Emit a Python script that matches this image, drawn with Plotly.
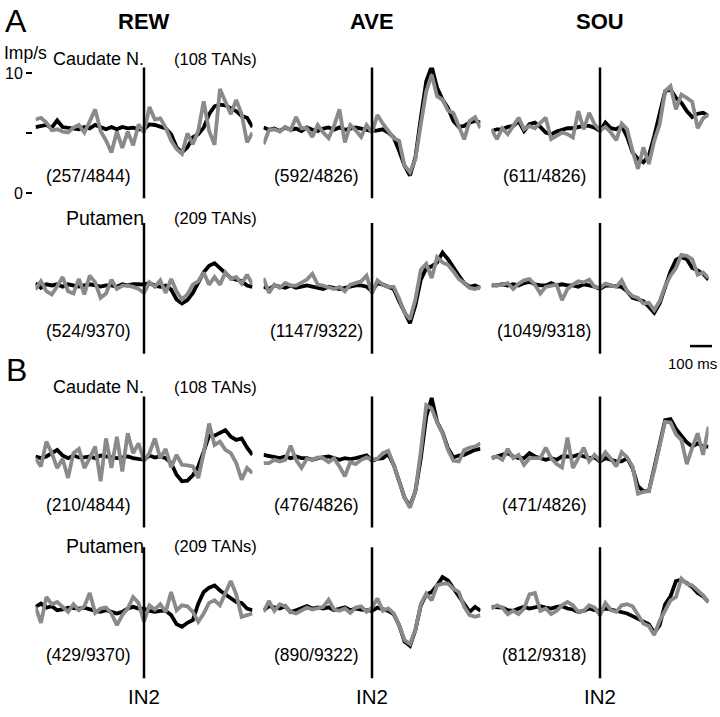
import plotly.graph_objects as go

# time bins (ms) relative to IN2
TIME_MS = list(range(-500, 525, 25))

COLUMNS = ["REW", "AVE", "SOU"]
ROW_LABELS = ["Caudate N.", "Putamen", "Caudate N.", "Putamen"]
ROW_TANS = ["(108 TANs)", "(209 TANs)", "(108 TANs)", "(209 TANs)"]
COUNTS = [
    ["(257/4844)", "(592/4826)", "(611/4826)"],
    ["(524/9370)", "(1147/9322)", "(1049/9318)"],
    ["(210/4844)", "(476/4826)", "(471/4826)"],
    ["(429/9370)", "(890/9322)", "(812/9318)"],
]

# Imp/s, panel A (caudate / putamen)
a_rew_caud_black = [5.53, 5.6, 5.7, 5.48, 6.08, 5.53, 5.48, 5.42, 5.34, 5.53, 5.42, 5.7, 5.48, 5.34, 5.53, 5.34, 5.53, 5.42, 5.48, 5.34,
                    5.34, 5.75, 5.7, 5.6, 5.42, 4.93, 3.84, 3.42, 3.84, 4.66, 4.93, 5.48, 6.6, 7.26, 7.4, 7.34, 7.12, 6.85, 6.44, 6.3, 5.53]
a_rew_caud_gray = [6.16, 6.3, 5.9, 5.26, 5.34, 5.15, 5.07, 5.48, 5.7, 5.07, 6.0, 7.0, 5.2, 4.4, 3.4, 5.15, 3.8, 5.15, 4.0, 5.75,
                   5.07, 7.2, 6.16, 6.25, 5.48, 4.4, 3.7, 3.3, 5.0, 4.1, 5.2, 7.67, 5.2, 4.05, 8.7, 7.67, 6.6, 7.8, 6.6, 4.25, 5.07]
a_ave_caud_black = [5.5, 5.3, 5.4, 5.2, 5.5, 5.3, 5.4, 5.2, 5.5, 5.3, 5.2, 5.4, 5.5, 5.3, 5.5, 5.3, 5.4, 5.5, 5.4, 5.3,
                    5.2, 5.26, 5.34, 5.07, 4.66, 3.55, 2.31, 1.49, 3.0, 6.3, 9.34, 10.58, 8.79, 7.82, 7.13, 6.03, 5.54, 5.62, 5.9, 6.03, 5.9]
a_ave_caud_gray = [4.1, 5.26, 5.34, 5.15, 5.54, 5.26, 6.36, 5.43, 5.43, 4.71, 5.7, 5.07, 4.6, 5.62, 7.0, 4.24, 5.7, 5.26, 4.71, 5.7,
                   5.07, 6.53, 5.81, 5.2, 4.6, 4.38, 2.31, 1.76, 2.87, 5.76, 8.5, 9.9, 8.1, 7.82, 6.9, 6.7, 5.62, 4.5, 6.03, 6.36, 5.43]
a_sou_caud_black = [5.2, 5.34, 5.34, 5.54, 5.62, 6.03, 5.2, 5.76, 5.9, 5.54, 5.07, 4.93, 5.15, 5.26, 5.43, 5.43, 5.54, 5.62, 5.62, 5.48,
                    5.2, 5.9, 5.43, 5.34, 5.62, 4.71, 3.42, 2.87, 2.59, 3.14, 4.79, 6.72, 8.51, 8.65, 7.96, 7.55, 6.86, 6.36, 6.64, 6.72, 6.45]
a_sou_caud_gray = [5.34, 4.52, 5.43, 4.93, 5.62, 6.31, 5.34, 5.62, 5.43, 5.9, 6.31, 4.52, 4.79, 5.07, 4.93, 4.66, 6.86, 5.34, 6.72, 5.76,
                   5.26, 5.54, 5.07, 4.44, 5.81, 5.34, 3.55, 2.04, 3.83, 2.45, 4.38, 5.76, 8.51, 8.93, 7.0, 8.24, 7.96, 7.63, 5.43, 6.25, 6.58]
a_rew_put_black = [5.5, 5.1, 5.4, 5.3, 5.4, 5.2, 5.4, 5.3, 5.2, 5.3, 5.4, 5.3, 5.2, 5.3, 5.3, 5.2, 5.4, 5.3, 5.4, 5.4,
                   5.37, 5.5, 5.29, 5.18, 5.29, 4.96, 4.13, 3.8, 4.08, 4.68, 5.5, 6.39, 6.94, 7.16, 6.75, 6.28, 5.92, 5.79, 5.65, 5.29, 5.18]
a_rew_put_gray = [4.96, 5.65, 4.82, 4.55, 5.23, 6.0, 4.82, 4.63, 5.84, 4.55, 6.12, 5.56, 4.27, 4.63, 5.79, 5.01, 5.29, 5.29, 5.18, 5.01,
                  4.68, 5.56, 5.18, 5.73, 4.68, 5.84, 4.82, 4.13, 4.55, 5.37, 5.65, 6.39, 5.37, 6.0, 5.37, 6.39, 5.84, 6.0, 5.45, 6.2, 5.37]
a_ave_put_black = [5.2, 5.0, 5.3, 5.2, 5.1, 5.3, 5.1, 5.2, 5.3, 5.2, 5.1, 5.0, 5.2, 5.1, 5.0, 5.1, 5.2, 5.3, 5.3, 5.2,
                   4.82, 5.5, 5.37, 5.18, 5.01, 3.99, 3.03, 2.15, 3.64, 5.79, 6.75, 6.89, 7.22, 8.04, 7.49, 6.75, 6.12, 5.5, 5.18, 5.29, 5.1]
a_ave_put_gray = [5.92, 4.68, 5.37, 5.1, 5.5, 5.29, 5.29, 5.5, 5.79, 6.28, 5.37, 5.29, 5.18, 5.01, 5.18, 4.82, 5.37, 5.5, 5.65, 6.12,
                  4.63, 5.73, 5.37, 5.18, 5.18, 4.19, 3.03, 2.48, 4.13, 6.61, 7.11, 5.92, 7.66, 7.22, 7.02, 6.47, 5.84, 5.5, 5.1, 5.01, 5.18]
a_sou_put_black = [5.3, 5.3, 5.4, 5.3, 5.4, 5.3, 5.5, 5.6, 5.4, 5.3, 5.3, 5.5, 5.3, 5.4, 5.3, 5.3, 5.2, 5.4, 5.3, 5.2,
                   5.01, 5.29, 5.29, 5.23, 5.18, 4.82, 4.27, 4.13, 3.99, 3.53, 3.03, 3.8, 5.1, 6.47, 7.44, 7.66, 7.49, 6.75, 6.56, 6.28, 5.79]
a_sou_put_gray = [5.37, 5.29, 5.37, 5.5, 5.01, 5.45, 5.73, 5.84, 5.37, 4.63, 5.18, 5.29, 5.37, 4.08, 5.01, 5.37, 5.65, 5.56, 5.79, 5.18,
                  5.1, 5.45, 5.29, 5.18, 5.73, 4.82, 4.41, 4.27, 3.8, 3.86, 3.25, 3.99, 5.23, 6.12, 6.75, 7.85, 7.77, 7.49, 6.2, 6.39, 5.92]

# Imp/s, panel B
b_rew_caud_black = [5.51, 5.37, 5.51, 5.79, 6.06, 5.59, 5.37, 5.59, 5.43, 5.43, 5.51, 5.37, 5.59, 5.51, 5.43, 5.37, 5.43, 5.51, 5.37, 5.32,
                    5.23, 5.59, 5.43, 5.51, 5.37, 4.96, 3.99, 3.44, 3.5, 3.94, 4.68, 5.92, 7.25, 7.25, 7.44, 7.71, 7.16, 6.89, 7.02, 6.25, 5.65]
b_rew_caud_gray = [5.37, 4.68, 6.75, 5.79, 4.55, 5.32, 3.72, 5.79, 6.14, 4.55, 5.37, 6.34, 3.44, 7.02, 4.55, 7.16, 4.27, 7.44, 5.79, 6.61,
                   5.15, 5.79, 7.02, 5.37, 6.14, 4.6, 5.65, 4.82, 4.77, 4.68, 3.72, 5.79, 8.26, 6.47, 6.75, 6.06, 5.79, 4.96, 3.58, 4.55, 4.13]
b_ave_caud_black = [5.65, 5.55, 5.45, 5.37, 5.51, 5.37, 5.51, 5.37, 5.37, 5.23, 5.37, 5.43, 5.51, 5.37, 5.23, 5.37, 5.3, 5.37, 5.51, 5.6,
                    5.15, 5.32, 5.37, 5.7, 4.82, 3.5, 2.07, 1.38, 2.62, 5.37, 8.82, 10.39, 8.4, 7.52, 6.2, 5.43, 5.59, 5.65, 5.87, 6.06, 6.14]
b_ave_caud_gray = [4.96, 4.96, 5.23, 5.1, 5.23, 6.42, 5.23, 4.55, 5.32, 5.23, 5.43, 5.37, 5.04, 5.37, 4.68, 3.86, 5.04, 4.88, 5.23, 5.43,
                   5.23, 5.32, 5.79, 5.98, 4.82, 3.39, 2.07, 1.24, 2.62, 5.92, 9.78, 9.5, 8.35, 7.44, 6.06, 5.15, 5.1, 6.06, 6.25, 6.34, 6.61]
b_sou_caud_black = [5.37, 5.51, 5.65, 5.79, 5.51, 5.37, 5.37, 5.79, 5.51, 5.37, 5.23, 5.37, 5.23, 5.51, 5.51, 5.51, 5.65, 5.51, 5.37, 5.43,
                    5.1, 5.37, 5.23, 5.1, 5.1, 5.37, 4.55, 3.03, 2.62, 2.62, 4.55, 6.61, 8.54, 8.62, 7.8, 7.25, 6.69, 6.34, 6.61, 6.34, 6.34]
b_sou_caud_gray = [5.37, 5.51, 5.23, 6.14, 5.37, 5.65, 4.82, 5.37, 5.37, 5.37, 6.25, 5.37, 4.88, 4.6, 7.08, 4.55, 5.37, 6.25, 5.1, 5.65,
                   5.15, 5.87, 5.32, 4.68, 5.87, 5.43, 4.68, 2.4, 2.56, 2.62, 4.41, 6.53, 8.4, 8.35, 7.36, 6.89, 4.88, 6.25, 7.44, 5.65, 7.99]
b_rew_put_black = [5.54, 5.81, 5.48, 5.59, 5.26, 5.32, 5.48, 5.4, 5.4, 5.48, 5.32, 5.21, 5.12, 5.26, 5.12, 4.99, 5.12, 5.4, 5.54, 5.4,
                   5.4, 5.21, 5.12, 5.21, 5.21, 4.85, 4.1, 3.88, 4.21, 4.44, 5.81, 6.78, 7.14, 7.33, 6.91, 6.58, 6.23, 5.95, 5.87, 5.4, 5.26]
b_rew_put_gray = [5.54, 4.21, 6.36, 5.76, 5.95, 5.54, 5.12, 5.76, 5.26, 5.59, 6.69, 5.04, 5.4, 5.48, 4.99, 4.02, 4.85, 5.4, 6.36, 5.87,
                  4.3, 5.67, 5.32, 5.76, 5.12, 6.78, 5.26, 5.67, 5.59, 5.12, 4.3, 4.99, 5.87, 6.09, 5.67, 6.69, 7.69, 6.58, 4.71, 4.85, 4.99]
b_ave_put_black = [5.26, 5.6, 5.5, 5.4, 5.6, 5.1, 5.26, 5.4, 5.6, 5.4, 5.5, 5.4, 5.5, 5.26, 5.4, 5.5, 5.26, 5.4, 5.3, 5.26,
                   5.21, 5.48, 5.32, 5.21, 4.93, 4.02, 2.64, 2.29, 3.61, 5.67, 6.58, 6.78, 7.33, 8.02, 7.74, 7.05, 6.42, 5.67, 5.12, 5.54, 5.21]
b_ave_put_gray = [5.12, 6.03, 5.21, 5.76, 5.59, 5.12, 4.99, 5.21, 5.48, 5.32, 5.4, 5.54, 6.14, 5.32, 5.21, 5.4, 5.04, 5.48, 5.59, 5.12,
                  5.48, 6.23, 5.21, 5.4, 4.99, 4.02, 2.78, 2.45, 3.61, 5.76, 6.64, 6.09, 7.33, 7.47, 7.47, 7.05, 6.78, 5.54, 4.85, 4.71, 4.85]
b_sou_put_black = [5.54, 5.54, 5.48, 5.26, 5.21, 5.4, 5.54, 5.4, 5.54, 5.6, 5.48, 5.4, 5.54, 5.6, 5.4, 5.32, 5.12, 5.21, 5.4, 5.26,
                   5.21, 5.4, 5.32, 5.21, 5.12, 4.99, 4.77, 4.57, 4.3, 4.1, 3.39, 4.02, 5.76, 6.42, 7.69, 7.8, 7.52, 7.19, 6.69, 6.42, 5.95]
b_sou_put_gray = [5.4, 5.67, 5.48, 4.93, 5.21, 4.93, 5.4, 6.58, 6.69, 5.21, 5.4, 4.93, 5.21, 5.67, 5.95, 5.67, 5.12, 5.21, 5.67, 5.48,
                  4.85, 5.87, 5.26, 5.12, 5.67, 5.76, 5.59, 4.93, 4.16, 3.94, 3.2, 4.38, 5.26, 6.09, 6.36, 7.88, 7.47, 7.33, 6.91, 6.5, 5.95]

SERIES = [
    [(a_rew_caud_black, a_rew_caud_gray), (a_ave_caud_black, a_ave_caud_gray), (a_sou_caud_black, a_sou_caud_gray)],
    [(a_rew_put_black, a_rew_put_gray), (a_ave_put_black, a_ave_put_gray), (a_sou_put_black, a_sou_put_gray)],
    [(b_rew_caud_black, b_rew_caud_gray), (b_ave_caud_black, b_ave_caud_gray), (b_sou_caud_black, b_sou_caud_gray)],
    [(b_rew_put_black, b_rew_put_gray), (b_ave_put_black, b_ave_put_gray), (b_sou_put_black, b_sou_put_gray)],
]

# page geometry (pixels)
W, H = 720, 717
VLINE_PX = [144, 372, 600]
HALF_W = 108.5
ZERO_PX = [193, 350, 525, 677]
PX_PER_UNIT = 12.1
Y_RANGE = [-0.4, 10.5]
FONT = "Arial, Liberation Sans, Helvetica, sans-serif"
GRAY = "#8a8a8a"


def fx(px):
    return px / W


def fy(px):
    return 1 - px / H


def label(text, x_px, y_px, size, xanchor="center"):
    return dict(text=text, x=fx(x_px), y=fy(y_px), xref="paper", yref="paper",
                xanchor=xanchor, yanchor="middle", showarrow=False,
                font=dict(size=size, color="black", family=FONT))


fig = go.Figure()
layout = {}
shapes = []
annotations = []

for r in range(4):
    for c in range(3):
        k = r * 3 + c + 1
        sfx = "" if k == 1 else str(k)
        v = VLINE_PX[c]
        z = ZERO_PX[r]
        layout["xaxis" + sfx] = dict(
            domain=[fx(v - HALF_W), fx(v + HALF_W)], range=[-500, 500],
            visible=False, anchor="y" + sfx,
        )
        layout["yaxis" + sfx] = dict(
            domain=[fy(z - Y_RANGE[0] * PX_PER_UNIT), fy(z - Y_RANGE[1] * PX_PER_UNIT)],
            range=Y_RANGE, visible=False, anchor="x" + sfx,
        )
        black, gray = SERIES[r][c]
        fig.add_trace(go.Scatter(x=TIME_MS, y=black, mode="lines", xaxis="x" + sfx, yaxis="y" + sfx,
                                 line=dict(color="#000000", width=3.8), showlegend=False, hoverinfo="skip"))
        fig.add_trace(go.Scatter(x=TIME_MS, y=gray, mode="lines", xaxis="x" + sfx, yaxis="y" + sfx,
                                 line=dict(color=GRAY, width=3.8), showlegend=False, hoverinfo="skip"))
        # event line at IN2
        shapes.append(dict(type="line", xref="x" + sfx, yref="y" + sfx + " domain",
                           x0=0, x1=0, y0=0, y1=1, line=dict(color="black", width=2.5)))
        # cell counts
        annotations.append(label(COUNTS[r][c], v - 56, z - 18, 17.5))

# y axis ticks for first panel
layout["yaxis"].update(visible=True, anchor="free", position=fx(32), side="left",
                       tickvals=[0, 5, 10], ticktext=["0", "", "10"], ticks="outside",
                       ticklen=6, tickwidth=2, tickcolor="black", showline=False,
                       showgrid=False, zeroline=False,
                       tickfont=dict(size=16, color="black", family=FONT))

# row labels
ROW_TEXT_PX = [57, 218, 388, 549]
ROW_LABEL_SIZE = [18, 19.5, 18, 19.5]
for r in range(4):
    annotations.append(label(ROW_LABELS[r], 146, ROW_TEXT_PX[r], ROW_LABEL_SIZE[r], xanchor="right"))
    annotations.append(label(ROW_TANS[r], 172, ROW_TEXT_PX[r], 16.5, xanchor="left"))

# column titles and IN2 labels
for c, name in enumerate(COLUMNS):
    annotations.append(label("<b>%s</b>" % name, VLINE_PX[c], 20, 22))
    annotations.append(label("IN2", VLINE_PX[c], 700, 20.5))

# panel letters and units
annotations.append(label("A", 16, 19, 32))
annotations.append(label("B", 16, 371, 32))
annotations.append(label("Imp/s", 2, 51, 17.5, xanchor="left"))

# 100 ms scale bar
shapes.append(dict(type="line", xref="paper", yref="paper", x0=fx(690), x1=fx(712),
                   y0=fy(347), y1=fy(347), line=dict(color="black", width=2.5)))
annotations.append(label("100 ms", 692, 365, 15))

fig.update_layout(
    width=W, height=H,
    margin=dict(l=0, r=0, t=0, b=0),
    paper_bgcolor="white", plot_bgcolor="rgba(0,0,0,0)",
    shapes=shapes, annotations=annotations,
    **layout,
)

fig.write_html("out.html", config={"displayModeBar": False},
               post_script="document.body.style.margin='0px';")
